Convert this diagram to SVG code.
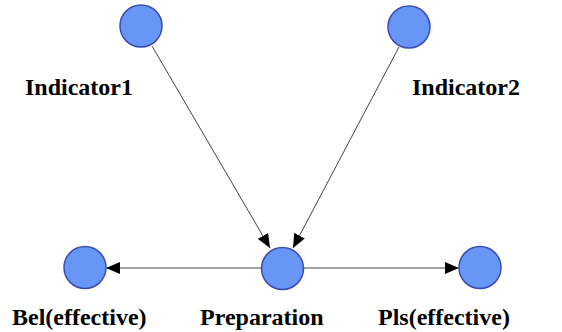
<svg xmlns="http://www.w3.org/2000/svg" width="562" height="332" viewBox="0 0 562 332">
<style>
.node circle{fill:#6896f6;stroke:#3a4cb0;stroke-width:1.5}
.node text{font-family:'Liberation Serif','Times New Roman','DejaVu Serif',serif;font-weight:700;font-size:24px;fill:#000}
.edge{stroke:#444;stroke-width:1;fill:none;marker-end:url(#arr)}
</style>
<defs>
<marker id="arr" viewBox="0 0 14 12" refX="14" refY="6" markerWidth="14" markerHeight="12" markerUnits="userSpaceOnUse" orient="auto">
<path d="M0,0 L14,6 L0,12 z" fill="#000"/>
</marker>
</defs>
<rect width="562" height="332" fill="#fff"/>
<g id="connectors">
<line class="edge" x1="152" y1="46" x2="270" y2="248"/>
<line class="edge" x1="399" y1="47" x2="293" y2="248"/>
<line class="edge" x1="261" y1="268" x2="106" y2="268"/>
<line class="edge" x1="304" y1="268" x2="459" y2="268"/>
</g>
<g id="indicator1" class="node">
<circle cx="141" cy="26" r="21"/>
<text x="25" y="95" font-family="Liberation Serif, serif">Indicator1</text>
</g>
<g id="indicator2" class="node">
<circle cx="409" cy="27" r="21"/>
<text x="412" y="95" font-family="Liberation Serif, serif">Indicator2</text>
</g>
<g id="preparation" class="node">
<circle cx="282.5" cy="268.5" r="21"/>
<text x="200" y="325" font-family="Liberation Serif, serif">Preparation</text>
</g>
<g id="bel" class="node">
<circle cx="85" cy="267.5" r="21"/>
<text x="12" y="325" font-family="Liberation Serif, serif">Bel(effective)</text>
</g>
<g id="pls" class="node">
<circle cx="480" cy="267.5" r="21"/>
<text x="378" y="325" font-family="Liberation Serif, serif">Pls(effective)</text>
</g>
</svg>
